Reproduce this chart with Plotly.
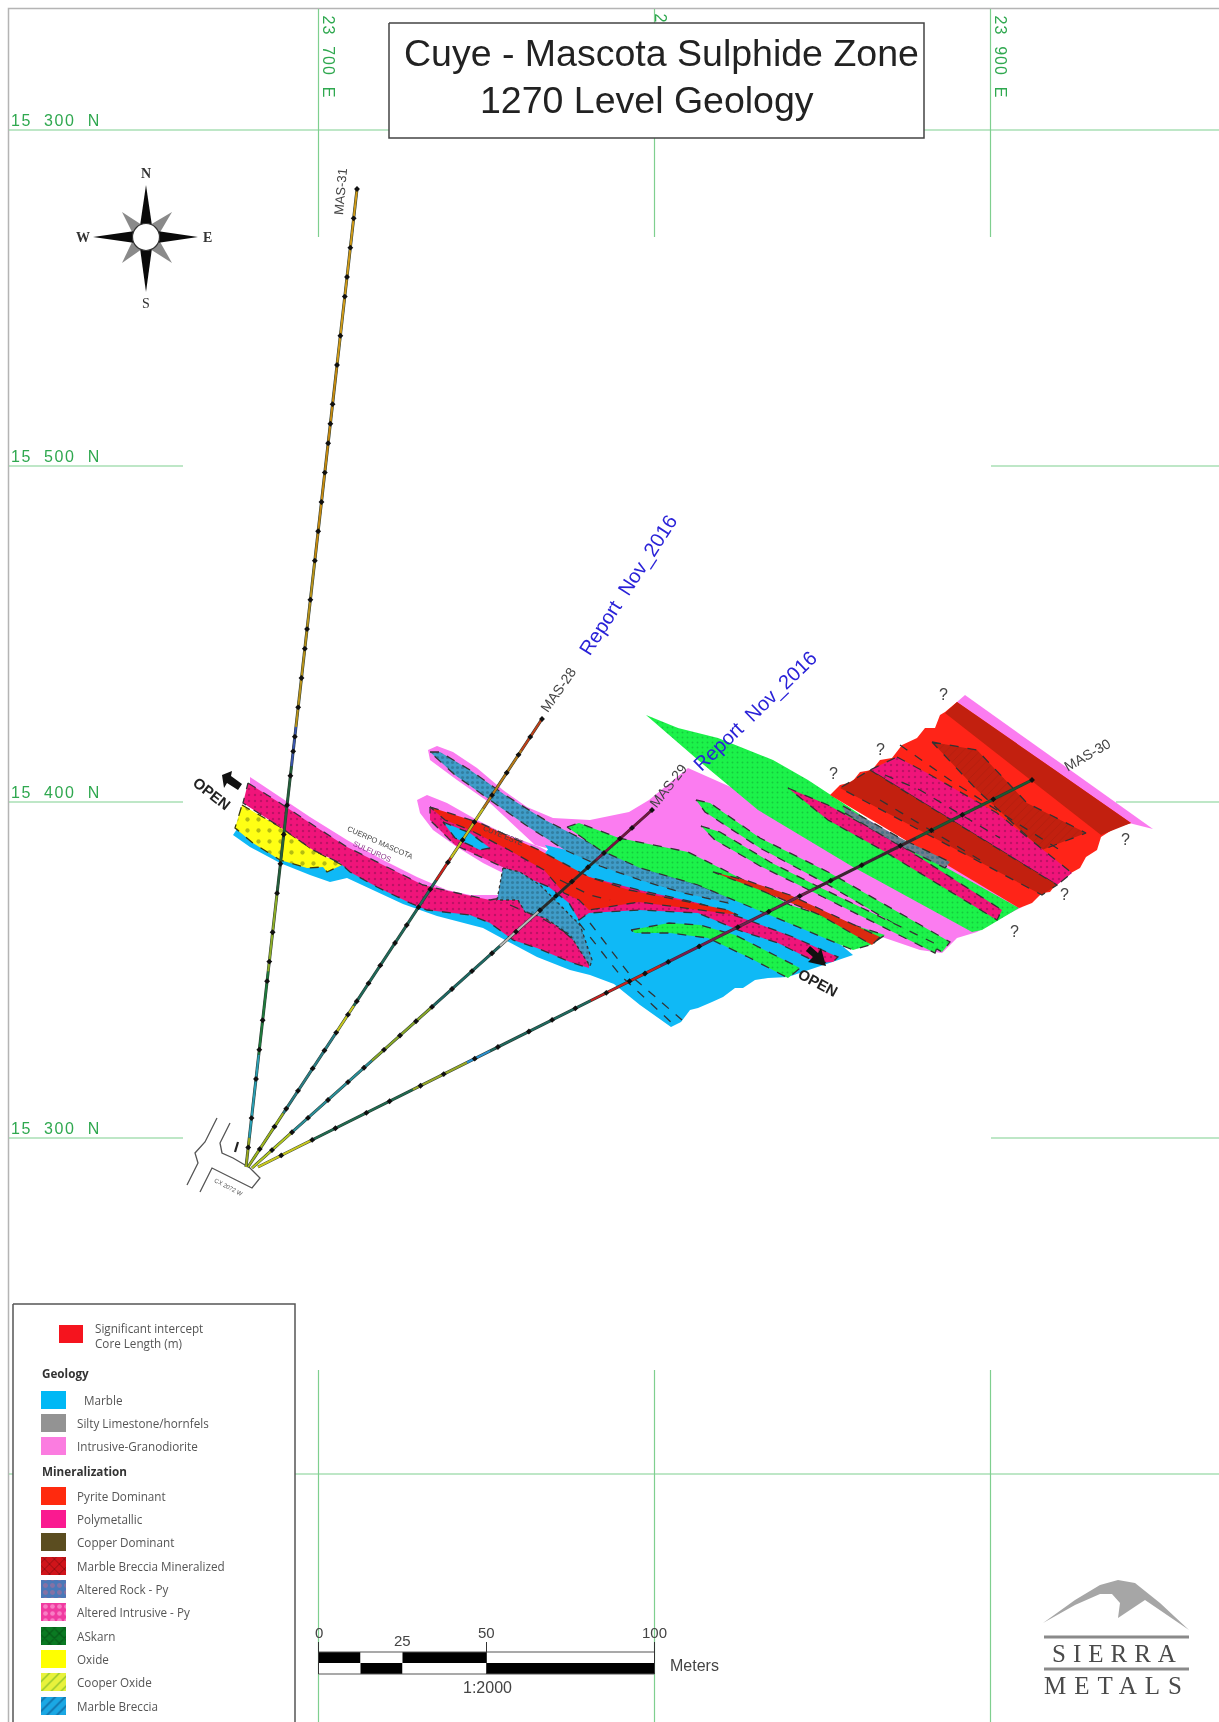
import plotly.graph_objects as go

# ---- map grid (survey values) ----
GRID_E = [23700, 23800, 23900]
GRID_N = [15600, 15500, 15400, 15300, 15200]
GRID_N_LABELS = ["15  300  N", "15  500  N", "15  400  N", "15  300  N"]
GRID_E_LABELS = ["23  700  E", "2", "23  900  E"]
SCALE_M = [0, 12.5, 25, 50, 100]
SCALE_LABELS = ["0", "25", "50", "100"]
SCALE_LABEL_M = [0, 25, 50, 100]

# ---- digitised outlines (sheet units of the scanned plan) ----
INTR_MAIN = [(428,750),(437,746),(453,752),(477,768),(503,790),(527,807),(553,818),(590,820),(629,812),(649,800),(688,768),(760,800),(828,797),(1022,907),(997,920),(977,932),(957,938),(942,953),(920,950),(897,942),(882,937),(853,945),(790,905),(700,875),(590,860),(535,845),(490,803),(457,780),(430,760)]
INTR_WEST = [(250,777),(280,797),(310,817),(347,840),(383,860),(417,877),(447,890),(470,895),(503,895),(517,890),(503,873),(483,863),(457,847),(433,830),(420,813),(417,800),(427,795),(447,803),(477,820),(503,833),(540,847),(600,880),(520,900),(470,905),(420,900),(340,860),(250,800)]
INTR_NE = [(965,695),(1153,829),(1129,823),(957,702)]
MARBLE = [(235,832),(233,835),(250,847),(280,863),(310,875),(330,882),(347,878),(367,887),(403,904),(437,916),(483,928),(507,941),(537,957),(570,970),(590,975),(614,984),(640,1005),(671,1027),(681,1022),(690,1010),(698,1008),(712,1002),(723,997),(735,988),(743,988),(755,980),(768,978),(788,977),(853,955),(800,910),(728,880),(640,860),(549,848),(540,860),(500,905),(420,892),(300,848),(250,810)]
POLY_WEST = [(248,783),(280,803),(313,825),(347,847),(383,865),(423,885),(457,893),(490,900),(517,895),(525,905),(547,917),(570,937),(589,952),(589,968),(570,962),(537,948),(513,940),(490,923),(470,915),(427,910),(410,903),(377,887),(350,872),(340,863),(313,850),(280,827),(243,803)]
POLY_CENTER = [(430,807),(470,823),(529,850),(589,877),(639,890),(698,903),(748,920),(793,937),(838,957),(833,962),(818,963),(778,943),(738,930),(698,913),(639,910),(589,913),(579,920),(569,903),(549,887),(509,870),(455,845),(430,820)]
PYRITE_CENTER = [(430,807),(480,823),(539,850),(589,877),(629,890),(679,900),(728,910),(738,915),(698,910),(639,902),(589,910),(579,900),(564,893),(544,870),(509,850),(470,830),(445,820)]
BRECCIA_N = [(430,752),(440,752),(470,770),(505,795),(545,820),(580,838),(610,852),(650,870),(690,882),(730,897),(728,903),(680,892),(640,880),(600,866),(565,850),(530,828),(490,800),(455,775)]
BRECCIA_S = [(503,868),(520,872),(540,885),(560,905),(580,925),(592,960),(590,966),(570,935),(545,918),(525,912),(518,900),(497,900)]
MARBLE_SLIVER = [(443,822),(470,833),(490,848),(480,850),(455,838)]
MARBLE_GAP = [(545,845),(600,858),(660,878),(720,897),(690,905),(640,890),(590,880),(555,860)]
SKARN_1 = [(646,715),(678,728),(718,738),(773,760),(808,780),(843,803),(902,843),(1019,908),(982,930),(972,932),(877,880),(853,867),(758,810),(698,760)]
SKARN_2 = [(696,800),(710,803),(760,838),(830,873),(950,942),(942,952),(825,883),(760,848),(705,812)]
SKARN_3 = [(701,826),(720,832),(770,862),(815,885),(938,945),(935,953),(805,888),(760,866),(715,840)]
SKARN_4 = [(567,827),(579,823),(619,838),(688,852),(738,877),(790,905),(885,935),(870,945),(853,950),(763,912),(698,885),(640,868),(600,850)]
SKARN_5 = [(631,930),(669,923),(700,925),(735,935),(800,968),(788,978),(750,958),(708,938),(670,933),(635,933)]
PYRITE_STRIPE = [(713,872),(745,880),(790,895),(880,937),(872,945),(820,915),(760,890)]
POLY_WEDGE = [(788,788),(828,805),(897,843),(1002,910),(997,920),(882,850),(828,820)]
PYRITE_BLOCK = [(830,795),(840,785),(852,782),(860,772),(872,770),(880,760),(892,758),(902,745),(917,738),(925,728),(935,728),(940,715),(945,712),(957,702),(1131,823),(1115,828),(1101,837),(1097,850),(1086,857),(1080,868),(1071,873),(1063,880),(1057,883),(1050,892),(1042,893),(1032,903),(1022,907),(1019,908)]
BRECCIA_DARK_N = [(957,702),(1131,823),(1101,835),(945,713)]
BRECCIA_DARK_LENS = [(932,742),(977,750),(1027,803),(1086,833),(1042,850),(977,790)]
POLY_BAND = [(897,757),(927,773),(997,813),(1072,873),(1057,885),(870,770)]
BRECCIA_DARK_S = [(870,770),(1057,885),(1042,895),(840,788)]
OXIDE = [(242,805),(280,827),(313,850),(342,865),(327,872),(323,867),(307,868),(280,860),(253,843),(235,828)]
ALT_BAND = [(843,806),(900,838),(950,862),(945,868),(895,843),(845,813)]
CONTACT_1 = [(579,923),(620,975),(672,1023)]
CONTACT_2 = [(590,923),(630,975),(682,1020)]
DASH_1 = [(885,775),(920,790),(970,820),(1000,838)]
DASH_2 = [(900,745),(950,780),(1020,825),(1060,850)]
DASH_3 = [(880,800),(930,830),(980,860)]
DASH_4 = [(510,905),(545,920),(570,935)]
DASH_5 = [(560,880),(590,895),(610,900)]

# ---- drill holes: collar, toe, logged intervals as fraction of length ----
HOLE_31 = [(246,1167),(357,189)]
HOLE_28 = [(248,1167),(542,719)]
HOLE_29 = [(252,1168),(652,810)]
HOLE_30 = [(258,1167),(1032,780)]
LOG_31 = [(0,.03,"#9aa81c"),(.03,.115,"#2a9fb5"),(.115,.2,"#1f7a3c"),(.2,.28,"#8fae28"),(.28,.41,"#235f3a"),(.41,.45,"#3a55b0"),(.45,.62,"#b8921a"),(.62,.82,"#c58a10"),(.82,1,"#d09a18")]
LOG_28 = [(0,.12,"#9fb51c"),(.12,.3,"#2b7f88"),(.3,.36,"#c9c820"),(.36,.64,"#1f6a5a"),(.64,.69,"#d0201a"),(.69,.8,"#c9c020"),(.8,.93,"#b87a18"),(.93,1,"#c0401a")]
LOG_29 = [(0,.1,"#b5c820"),(.1,.3,"#2a8f9a"),(.3,.45,"#8aa828"),(.45,.62,"#1e6a66"),(.62,.72,"#b8b8b8"),(.72,.86,"#2a2a2a"),(.86,1,"#7a1040")]
LOG_30 = [(0,.07,"#c9c820"),(.07,.2,"#206a50"),(.2,.27,"#98a828"),(.27,.3,"#2a90d0"),(.3,.43,"#1e6a60"),(.43,.52,"#c82020"),(.52,.72,"#7a1a50"),(.72,.85,"#402030"),(.85,1,"#1a5a30")]
TICKS_31 = [.02,.05,.09,.12,.15,.19,.21,.24,.28,.31,.34,.37,.40,.425,.44,.47,.5,.53,.55,.58,.62,.65,.68,.71,.74,.76,.78,.82,.85,.89,.91,.94,.97,1]
TICKS_28 = [.04,.09,.13,.17,.22,.26,.3,.34,.37,.41,.45,.5,.54,.58,.62,.68,.73,.77,.83,.88,.92,.96,1]
TICKS_29 = [.05,.1,.14,.19,.24,.28,.33,.37,.41,.45,.5,.55,.6,.66,.72,.76,.8,.84,.88,.92,.95,1]
TICKS_30 = [.03,.07,.1,.14,.17,.21,.24,.28,.31,.35,.38,.41,.45,.48,.5,.53,.57,.62,.66,.7,.74,.78,.83,.87,.91,.95,1]

# ---- working (access drive) ----
DRIVE_1 = [(217,1118),(205,1142),(195,1153),(198,1163),(187,1185)]
DRIVE_2 = [(230,1123),(220,1143),(222,1153),(233,1158),(250,1168),(260,1178),(252,1188),(212,1168),(200,1192)]
DRIVE_MARK = [(238,1142),(235,1152)]

# ---- compass, logo, arrows ----
COMPASS_DARK = [[(146,185),(152,226),(140,226)],[(146,292),(152,248),(140,248)],[(93,237),(135,231),(135,243)],[(198,237),(157,231),(157,243)]]
COMPASS_GREY = [[(122,212),(142,225),(133,234)],[(172,212),(150,225),(159,234)],[(122,263),(142,249),(133,240)],[(172,263),(150,249),(159,240)]]
COMPASS_HUB = [(146,237)]
LOGO_PEAK = [(1043,1623),(1075,1600),(1100,1585),(1118,1580),(1135,1583),(1160,1603),(1189,1630),(1145,1600),(1118,1618),(1120,1603),(1112,1594),(1100,1594),(1075,1605)]
LOGO_RULES = [[(1044,1637),(1189,1637)],[(1044,1669),(1189,1669)]]
ARROW_W = [(222,775),(232,771),(231,776),(242,784),(238,790),(227,783),(224,788)]
ARROW_E = [(806,951),(810,946),(818,953),(821,948),(826,966),(808,962),(813,957)]

# ---- legend ----
LEGEND_GEOLOGY = ["Marble", "Silty Limestone/hornfels", "Intrusive-Granodiorite"]
LEGEND_MINERAL = ["Pyrite Dominant", "Polymetallic", "Copper Dominant", "Marble Breccia Mineralized", "Altered Rock - Py", "Altered Intrusive - Py", "ASkarn", "Oxide", "Cooper Oxide", "Marble Breccia"]

# ---- plan placement ----
SHEET_W, SHEET_H = 1219, 1722
SX_23700, SY_15600, PX_M = 318.5, 130.0, 3.36

def E(s):
    return 23700 + (s - SX_23700) / PX_M

def N(s):
    return 15600 - (s - SY_15600) / PX_M

def sx(e):
    return SX_23700 + (e - 23700) * PX_M

def sy(n):
    return SY_15600 + (15600 - n) * PX_M

C_MARBLE, C_INTR, C_PYR, C_POLY = "#0fb9f6", "#fb7cf0", "#ff2418", "#f0147a"
C_DARK, C_SKARN, C_OX, C_BRE = "#c2200f", "#1cf24a", "#ffff14", "#3f9cc8"

fig = go.Figure()


def poly(points, fill, line=None, dash="dash", width=1, pattern=None):
    xs = [E(p[0]) for p in points] + [E(points[0][0])]
    ys = [N(p[1]) for p in points] + [N(points[0][1])]
    kw = dict(fill="toself", fillcolor=fill, mode="lines", hoverinfo="skip", showlegend=False)
    if pattern:
        kw["fillpattern"] = dict(shape=pattern[0], fgcolor=pattern[1], bgcolor=fill, size=pattern[2], solidity=pattern[3])
    if line:
        kw["line"] = dict(color=line, width=width, dash=dash)
    else:
        kw["line"] = dict(color=fill, width=0)
    fig.add_trace(go.Scatter(x=xs, y=ys, **kw))


def path(points, color, width=1, dash="solid"):
    fig.add_trace(go.Scatter(x=[E(p[0]) for p in points], y=[N(p[1]) for p in points], mode="lines",
                             line=dict(color=color, width=width, dash=dash), hoverinfo="skip", showlegend=False))


def text(s, x, y, size=12, color="#444444", angle=0, family="Liberation Sans", anchor="center", bold=False):
    fig.add_annotation(x=E(x), y=N(y), text=f"<b>{s}</b>" if bold else s, showarrow=False, textangle=angle,
                       xanchor=anchor, yanchor="middle", font=dict(size=size, color=color, family=family))


# sheet frame
path([(8.5, SHEET_H), (8.5, 8.5), (SHEET_W, 8.5)], "#b4b4b4", 1.5)

# grid
GREEN = "#7fcf8f"
for i, e in enumerate(GRID_E):
    fig.add_trace(go.Scatter(x=[e, e], y=[N(9), N(237)], mode="lines", line=dict(color=GREEN, width=1.2), hoverinfo="skip", showlegend=False))
    fig.add_trace(go.Scatter(x=[e, e], y=[N(1370), N(SHEET_H)], mode="lines", line=dict(color=GREEN, width=1.2), hoverinfo="skip", showlegend=False))
GRID_SPANS = {15600: [(9, 1219)], 15500: [(9, 183), (991, 1219)], 15400: [(9, 183), (1116, 1219)], 15300: [(9, 183), (991, 1219)], 15200: [(9, 1219)]}
for n in GRID_N:
    for a, b in GRID_SPANS[n]:
        fig.add_trace(go.Scatter(x=[E(a), E(b)], y=[n, n], mode="lines", line=dict(color=GREEN, width=1.2), hoverinfo="skip", showlegend=False))

# geology
DOTS_P = (".", "#8a0f50", 6, 0.14)
DOTS_G = (".", "#0da032", 5, 0.12)
DOTS_Y = (".", "#6a7a10", 11, 0.12)
DOTS_B = (".", "#23607a", 5, 0.3)
HATCH = ("/", "#a51a0c", 6, 0.15)
D = "#333333"
W = 1.3
poly(INTR_NE, C_INTR)
poly(INTR_WEST, C_INTR)
poly(INTR_MAIN, C_INTR)
poly(MARBLE, C_MARBLE)
poly(MARBLE_GAP, C_MARBLE)
poly(OXIDE, C_OX, "#3a3a10", "dash", W, DOTS_Y)
poly(POLY_WEST, C_POLY, D, "dash", W, DOTS_P)
poly(BRECCIA_N, C_BRE, D, "dash", W, DOTS_B)
poly(POLY_CENTER, C_POLY, D, "dash", W, DOTS_P)
poly(PYRITE_CENTER, "#ee2010", D, "dash", W)
poly(BRECCIA_S, C_BRE, D, "dot", W, DOTS_B)
poly(MARBLE_SLIVER, C_MARBLE, D, "dash", W)
poly(SKARN_1, C_SKARN, None, pattern=DOTS_G)
poly(SKARN_2, C_SKARN, D, "dash", W, DOTS_G)
poly(SKARN_3, C_SKARN, D, "dash", W, DOTS_G)
poly(SKARN_4, C_SKARN, D, "dash", W, DOTS_G)
poly(SKARN_5, C_SKARN, D, "dash", W, DOTS_G)
poly(PYRITE_STRIPE, "#dc2a10", D, "dash", W)
poly(POLY_WEDGE, C_POLY, D, "dash", W, DOTS_P)
poly(PYRITE_BLOCK, C_PYR)
poly(BRECCIA_DARK_N, C_DARK)
poly(BRECCIA_DARK_LENS, C_DARK, D, "dash", W, HATCH)
poly(POLY_BAND, C_POLY, D, "dash", W, DOTS_P)
poly(BRECCIA_DARK_S, C_DARK, D, "dash", W)
poly(ALT_BAND, "#6f7f8f", D, "dash", W, DOTS_B)
for line_pts in (CONTACT_1, CONTACT_2, DASH_1, DASH_2, DASH_3, DASH_4, DASH_5):
    path(line_pts, D, W, "dash")

# workings
path(DRIVE_1, "#555555", 1.3)
path(DRIVE_2, "#555555", 1.3)
path(DRIVE_MARK, "#222222", 2.2)

# drill holes
for hole, log, ticks in ((HOLE_31, LOG_31, TICKS_31), (HOLE_28, LOG_28, TICKS_28), (HOLE_29, LOG_29, TICKS_29), (HOLE_30, LOG_30, TICKS_30)):
    (x0, y0), (x1, y1) = hole
    path(hole, "#2a3a32", 3)
    for a, b, c in log:
        path([(x0 + (x1 - x0) * a, y0 + (y1 - y0) * a), (x0 + (x1 - x0) * b, y0 + (y1 - y0) * b)], c, 2)
    fig.add_trace(go.Scatter(x=[E(x0 + (x1 - x0) * t) for t in ticks], y=[N(y0 + (y1 - y0) * t) for t in ticks], mode="markers",
                             marker=dict(symbol="diamond", size=4.5, color="#101010", line=dict(width=0)), hoverinfo="skip", showlegend=False))

# arrows
poly(ARROW_W, "#111111")
poly(ARROW_E, "#111111")

# compass
for tri in COMPASS_GREY:
    poly(tri, "#8a8a8a")
for tri in COMPASS_DARK:
    poly(tri, "#0a0a0a")
fig.add_trace(go.Scatter(x=[E(COMPASS_HUB[0][0])], y=[N(COMPASS_HUB[0][1])], mode="markers",
                         marker=dict(size=27, color="white", line=dict(color="#333333", width=1.2)), hoverinfo="skip", showlegend=False))

# title box
poly([(389, 23), (924, 23), (924, 138), (389, 138)], "white", "#444444", "solid", 1.5)

# legend frame
poly([(13, 1304), (295, 1304), (295, 1740), (13, 1740)], "white", "#555555", "solid", 1.5)
poly([(59, 1325), (83, 1325), (83, 1343), (59, 1343)], "#f5141e")

LEGEND_STYLE = {
    "Marble": ("#00b8f5", None), "Silty Limestone/hornfels": ("#939393", None), "Intrusive-Granodiorite": ("#fb7ce0", None),
    "Pyrite Dominant": ("#ff2a0e", None), "Polymetallic": ("#fa1a90", None), "Copper Dominant": ("#5b4d20", None),
    "Marble Breccia Mineralized": ("#d0141a", ("x", "#500808", 7, 0.25)), "Altered Rock - Py": ("#4a78b8", (".", "#c06a90", 7, 0.4)),
    "Altered Intrusive - Py": ("#f03aa0", (".", "#ffc0e8", 7, 0.35)), "ASkarn": ("#0a7a22", ("x", "#02300a", 7, 0.3)),
    "Oxide": ("#ffff00", None), "Cooper Oxide": ("#e8f23c", ("/", "#3a9a20", 7, 0.2)), "Marble Breccia": ("#1aa8e4", ("/", "#0a3a70", 7, 0.25)),
}
LEGEND_Y_GEO = [1400, 1423, 1446]
LEGEND_Y_MIN = [1496, 1519, 1542, 1566, 1589, 1612, 1636, 1659, 1682, 1706]
LEGEND_TX_GEO = [82, 75, 75]
for names, ys, txs in ((LEGEND_GEOLOGY, LEGEND_Y_GEO, LEGEND_TX_GEO), (LEGEND_MINERAL, LEGEND_Y_MIN, [75] * 10)):
    for name, y, tx in zip(names, ys, txs):
        col, pat = LEGEND_STYLE[name]
        poly([(41, y - 9), (66, y - 9), (66, y + 9), (41, y + 9)], col, pattern=pat)
        text(name, tx, y, 11.7, "#555555", family="Open Sans", anchor="left")
text("Significant intercept", 93, 1328, 11.7, "#555555", family="Open Sans", anchor="left")
text("Core Length (m)", 93, 1343, 11.7, "#555555", family="Open Sans", anchor="left")
text("Geology", 40, 1373, 11.7, "#333333", family="Open Sans", anchor="left", bold=True)
text("Mineralization", 40, 1471, 11.7, "#333333", family="Open Sans", anchor="left", bold=True)

# scale bar
Y_T0, Y_MID, Y_B1 = 1652, 1663, 1674
for row, (ya, yb), cols in ((0, (Y_T0, Y_MID), ["black", "white", "black", "white"]), (1, (Y_MID, Y_B1), ["white", "black", "white", "black"])):
    for i, c in enumerate(cols):
        xa, xb = sx(23700 + SCALE_M[i]), sx(23700 + SCALE_M[i + 1])
        poly([(xa, ya), (xb, ya), (xb, yb), (xa, yb)], c)
path([(sx(23700), 1652), (sx(23800), 1652)], "#555555", 1.2)
path([(sx(23700), 1674), (sx(23800), 1674)], "#555555", 1.2)
path([(sx(23700), 1642), (sx(23700), 1674)], "#333333", 1)
path([(sx(23750), 1642), (sx(23750), 1674)], "#333333", 1)
path([(sx(23800), 1642), (sx(23800), 1674)], "#333333", 1)
for lab, m in zip(SCALE_LABELS, SCALE_LABEL_M):
    text(lab, sx(23700 + m), 1640 if lab == "25" else 1632, 15, "#444444")
text("Meters", 694, 1665, 16, "#444444")
text("1:2000", 487, 1687, 16, "#444444")

# logo
poly(LOGO_PEAK, "#a6a6a6")
for r in LOGO_RULES:
    path(r, "#8a8a8a", 3)
text("SIERRA", 1117, 1653, 25, "#4a4a4a", family="Liberation Serif")
text("METALS", 1117, 1685, 25, "#4a4a4a", family="Liberation Serif")

# text
text("Cuye - Mascota Sulphide Zone", 661, 53, 37.5, "#222222")
text("1270 Level Geology", 647, 100, 37.5, "#222222")
GL = "#2fa84f"
for lab, e in zip(GRID_E_LABELS, GRID_E):
    if lab == "2":
        text(lab, sx(e) + 6, 18, 16, GL, 90)
    else:
        text(lab, sx(e) + 10, 57, 16, GL, 90)
for lab, n in zip(GRID_N_LABELS, GRID_N[:4]):
    text(lab, 17, sy(n) - 10, 16, GL, anchor="left")

for t, x, y in (("N", 146, 173), ("S", 146, 303), ("W", 83, 237), ("E", 207, 237)):
    text(t, x, y, 14, "#333333", family="Liberation Serif", bold=(t != "S"))

text("MAS-31", 340, 192, 13, "#444444", -85)
text("MAS-28", 558, 690, 14, "#444444", -55)
text("MAS-29", 668, 786, 14, "#444444", -52)
text("MAS-30", 1087, 755, 14, "#444444", -30)
text("Report  Nov_2016", 628, 585, 20, "#2a22d8", -57)
text("Report  Nov_2016", 755, 711, 20, "#2a22d8", -44)
text("OPEN", 212, 793, 15, "#222222", 38, bold=True)
text("OPEN", 818, 982, 15, "#222222", 28, bold=True)
text("CUERPO MASCOTA", 380, 842, 7.5, "#444444", 24)
text("SULFUROS", 372, 851, 7.5, "#8a3a8a", 24)
text("CUYE ESTE", 503, 835, 7.5, "#444444", 22)
text("CX 2072 W", 228, 1187, 6, "#555555", 28)
for x, y in ((943, 694), (880, 749), (833, 773), (1125, 839), (1064, 894), (1014, 931)):
    text("?", x, y, 16, "#444444")

fig.update_layout(
    width=SHEET_W, height=SHEET_H, margin=dict(l=0, r=0, t=0, b=0), paper_bgcolor="white", plot_bgcolor="white",
    xaxis=dict(range=[E(0), E(SHEET_W)], visible=False, fixedrange=True),
    yaxis=dict(range=[N(SHEET_H), N(0)], visible=False, fixedrange=True),
    showlegend=False,
)

POST = """
document.body.style.margin='0';
document.documentElement.style.overflow='hidden';
document.querySelectorAll('.annotation-text').forEach(function(t){
  var s=t.textContent;
  if(s==='SIERRA'){t.style.letterSpacing='7px';}
  if(s==='METALS'){t.style.letterSpacing='8px';}
  if(s.indexOf('15')===0){t.style.letterSpacing='1.6px';}
  if(s.indexOf('23')===0){t.style.letterSpacing='1px';}
});
var c=document.querySelector('.svg-container'); if(c){c.style.filter='blur(0.6px)';}
"""
fig.write_html("out.html", config={"displayModeBar": False}, post_script=POST)
